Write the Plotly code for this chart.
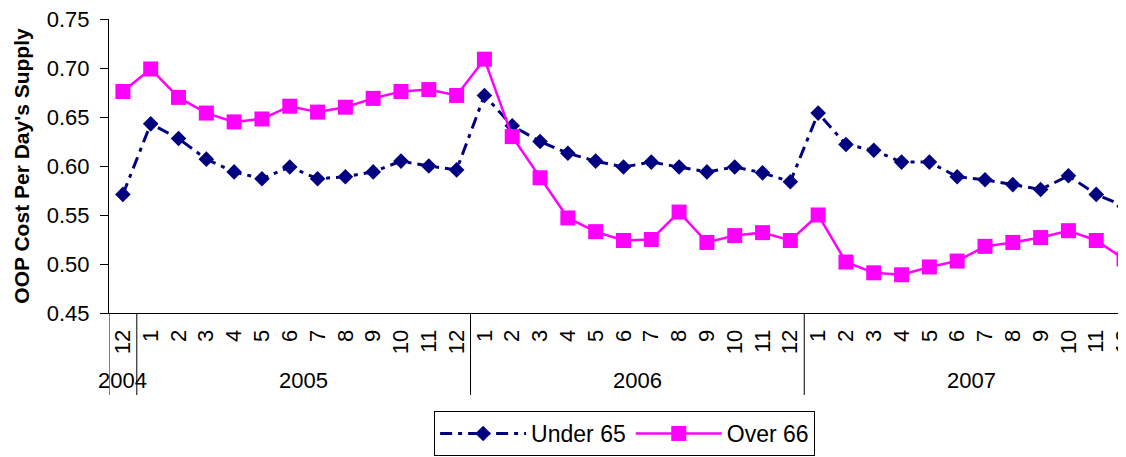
import plotly.graph_objects as go

# ---- data ----
months = ["12",
          "1", "2", "3", "4", "5", "6", "7", "8", "9", "10", "11", "12",
          "1", "2", "3", "4", "5", "6", "7", "8", "9", "10", "11", "12",
          "1", "2", "3", "4", "5", "6", "7", "8", "9", "10", "11", "12"]
year_labels = ["2004", "2005", "2006", "2007"]
year_counts = [1, 12, 12, 12]

under_65 = [0.571,
            0.643, 0.628, 0.607, 0.594, 0.587, 0.599, 0.587, 0.589, 0.594, 0.605, 0.600, 0.596,
            0.672, 0.641, 0.625, 0.613, 0.605, 0.599, 0.604, 0.599, 0.594, 0.599, 0.593, 0.584,
            0.654, 0.622, 0.616, 0.604, 0.604, 0.589, 0.586, 0.581, 0.576, 0.590, 0.571, 0.559]
over_66 = [0.676,
           0.699, 0.670, 0.654, 0.645, 0.648, 0.661, 0.655, 0.660, 0.669, 0.676, 0.678, 0.672,
           0.709, 0.630, 0.588, 0.547, 0.533, 0.524, 0.525, 0.553, 0.522, 0.529, 0.532, 0.524,
           0.550, 0.502, 0.491, 0.489, 0.497, 0.503, 0.518, 0.522, 0.527, 0.534, 0.524, 0.505]

x_idx = list(range(len(months)))

FONT = "Liberation Sans, Arial, sans-serif"
NAVY = "#000080"
MAGENTA = "#FF00FF"

# page body has an 8px margin; size the figure so it fits the window exactly
W, H = 1118, 449
L, T, B = 101, 11, 144
plot_h = H - T - B


def paper_y(px):
    """figure pixel y (from top) -> paper coordinate"""
    return (H - B - px) / plot_h


fig = go.Figure()
fig.add_trace(go.Scatter(
    x=x_idx, y=under_65, name="Under 65", mode="lines+markers",
    line=dict(color=NAVY, width=3, dash="12px,6px,4px,6px"),
    marker=dict(symbol="diamond", size=12, color=NAVY),
))
fig.add_trace(go.Scatter(
    x=x_idx, y=over_66, name="Over 66", mode="lines+markers",
    line=dict(color=MAGENTA, width=2.5),
    marker=dict(symbol="square", size=15, color=MAGENTA),
))

# year group labels and dividers
shapes = []
annotations = []
start = 0
div_bottom = paper_y(387)
year_y = paper_y(372)
bounds = [-0.5]
for lab, cnt in zip(year_labels, year_counts):
    center = start + (cnt - 1) / 2
    annotations.append(dict(x=center, y=year_y, xref="x", yref="paper", text=lab,
                            showarrow=False, font=dict(family=FONT, size=22, color="black"),
                            xanchor="center", yanchor="middle"))
    start += cnt
    bounds.append(start - 0.5)
for b in bounds:
    shapes.append(dict(type="line", xref="x", yref="paper", x0=b, x1=b, y0=0, y1=div_bottom,
                       line=dict(color="black", width=1)))

fig.update_layout(
    width=W, height=H,
    margin=dict(l=L, r=0, t=T, b=B, autoexpand=False),
    paper_bgcolor="white", plot_bgcolor="white",
    font=dict(family=FONT, size=22, color="black"),
    showlegend=True,
    legend=dict(orientation="h", x=0.507, xanchor="center", y=paper_y(448), yanchor="bottom",
                bordercolor="black", borderwidth=1, font=dict(family=FONT, size=23),
                itemwidth=86, bgcolor="white", tracegroupgap=0),
    shapes=shapes,
    annotations=annotations,
)
fig.update_xaxes(
    range=[-0.5, 36.07], tickmode="array", tickvals=x_idx, ticktext=months,
    tickangle=-90, ticks="", showgrid=False, zeroline=False, automargin=False,
    showline=True, linecolor="black", linewidth=1, ticklabeloverflow="allow",
    tickfont=dict(family=FONT, size=22), ticklabelstandoff=7,
)
fig.update_yaxes(
    range=[0.45, 0.75], dtick=0.05, tick0=0.45, tickformat=".2f", automargin=False,
    ticks="outside", ticklen=8, tickcolor="black", showgrid=False, zeroline=False,
    showline=True, linecolor="black", linewidth=1, ticklabeloverflow="allow",
    tickfont=dict(family=FONT, size=22), ticklabelstandoff=6,
    title=dict(text="<b>OOP Cost Per Day's Supply</b>", font=dict(family=FONT, size=21), standoff=11),
)

fig.write_html("out.html")
